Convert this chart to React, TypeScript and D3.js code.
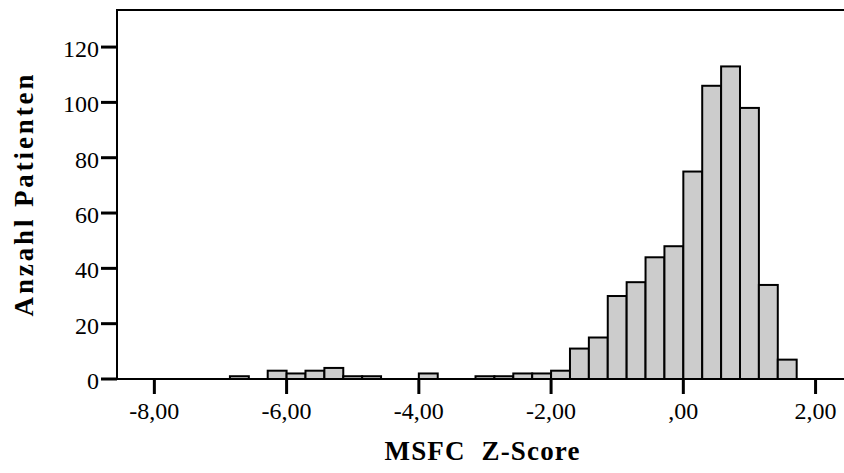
import React, { useEffect, useRef } from 'react';
import * as d3 from 'd3';

// histogram of MSFC Z-scores, bins of width 2/7 starting at -24 * 2/7
const binWidth = 2 / 7;
const firstBin = -24;
const counts = [
  1, 0, 3, 2, 3, 4, 1, 1, 0, 0, 2, 0, 0, 1, 1, 2, 2, 3, 11, 15, 30, 35, 44, 48, 75, 106, 113, 98, 34, 7,
];
const xTicks = [-8, -6, -4, -2, 0, 2];
const yTicks = [0, 20, 40, 60, 80, 100, 120];
const xTitle = 'MSFC  Z-Score';
const yTitle = 'Anzahl Patienten';

const fmt = (v: number) => {
  if (v === 0) return ',00';
  return v.toFixed(2).replace('.', ',');
};

export default function App() {
  const ref = useRef<SVGSVGElement>(null);

  useEffect(() => {
    const width = 844;
    const height = 473;
    const left = 117;
    const right = 844;
    const top = 10;
    const bottom = 379;
    const font = '"Liberation Serif", "Times New Roman", serif';

    const svg = d3.select(ref.current);
    svg.selectAll('*').remove();
    svg.attr('width', width).attr('height', height);

    const x = d3.scaleLinear().domain([-8.565, 2.43]).range([left, right]);
    const y = d3.scaleLinear().domain([0, 133.4]).range([bottom, top]);

    const bins = counts.map((c, i) => {
      const x0 = (firstBin + i) * binWidth;
      return { x0, x1: x0 + binWidth, c };
    }).filter(d => d.c > 0);

    svg.append('g')
      .selectAll('rect')
      .data(bins)
      .enter()
      .append('rect')
      .attr('x', d => x(d.x0))
      .attr('y', d => y(d.c))
      .attr('width', d => x(d.x1) - x(d.x0))
      .attr('height', d => y(0) - y(d.c))
      .attr('fill', '#cccccc')
      .attr('stroke', '#000')
      .attr('stroke-width', 2);

    // frame: left axis, top line, bottom axis
    svg.append('line')
      .attr('x1', left).attr('x2', left).attr('y1', top).attr('y2', bottom + 1)
      .attr('stroke', '#000').attr('stroke-width', 2);
    svg.append('line')
      .attr('x1', left - 1).attr('x2', right).attr('y1', top).attr('y2', top)
      .attr('stroke', '#000').attr('stroke-width', 2);
    svg.append('line')
      .attr('x1', left - 1).attr('x2', right).attr('y1', bottom).attr('y2', bottom)
      .attr('stroke', '#000').attr('stroke-width', 2);

    const xg = svg.append('g');
    xTicks.forEach(t => {
      xg.append('line')
        .attr('x1', x(t)).attr('x2', x(t)).attr('y1', bottom).attr('y2', bottom + 15)
        .attr('stroke', '#000').attr('stroke-width', 3);
      xg.append('text')
        .attr('x', x(t)).attr('y', 419)
        .attr('text-anchor', 'middle')
        .attr('font-family', font).attr('font-size', 24)
        .text(fmt(t));
    });

    const yg = svg.append('g');
    yTicks.forEach(t => {
      yg.append('line')
        .attr('x1', left - 16).attr('x2', left).attr('y1', y(t)).attr('y2', y(t))
        .attr('stroke', '#000').attr('stroke-width', 3);
      yg.append('text')
        .attr('x', left - 18).attr('y', y(t) + 10)
        .attr('text-anchor', 'end')
        .attr('font-family', font).attr('font-size', 24)
        .text(t);
    });

    svg.append('text')
      .attr('x', 482).attr('y', 460)
      .attr('text-anchor', 'middle')
      .attr('font-family', font).attr('font-size', 27).attr('font-weight', 'bold')
      .attr('textLength', 195).attr('lengthAdjust', 'spacing')
      .style('white-space', 'pre')
      .text(xTitle);

    svg.append('text')
      .attr('transform', `translate(33, ${(top + bottom) / 2 + 1}) rotate(-90)`)
      .attr('text-anchor', 'middle')
      .attr('font-family', font).attr('font-size', 27).attr('font-weight', 'bold')
      .attr('textLength', 242).attr('lengthAdjust', 'spacing')
      .text(yTitle);
  }, []);

  return (
    <div style={{ position: 'fixed', left: 0, top: 0, background: '#fff' }}>
      <svg ref={ref} style={{ display: 'block' }} />
    </div>
  );
}
